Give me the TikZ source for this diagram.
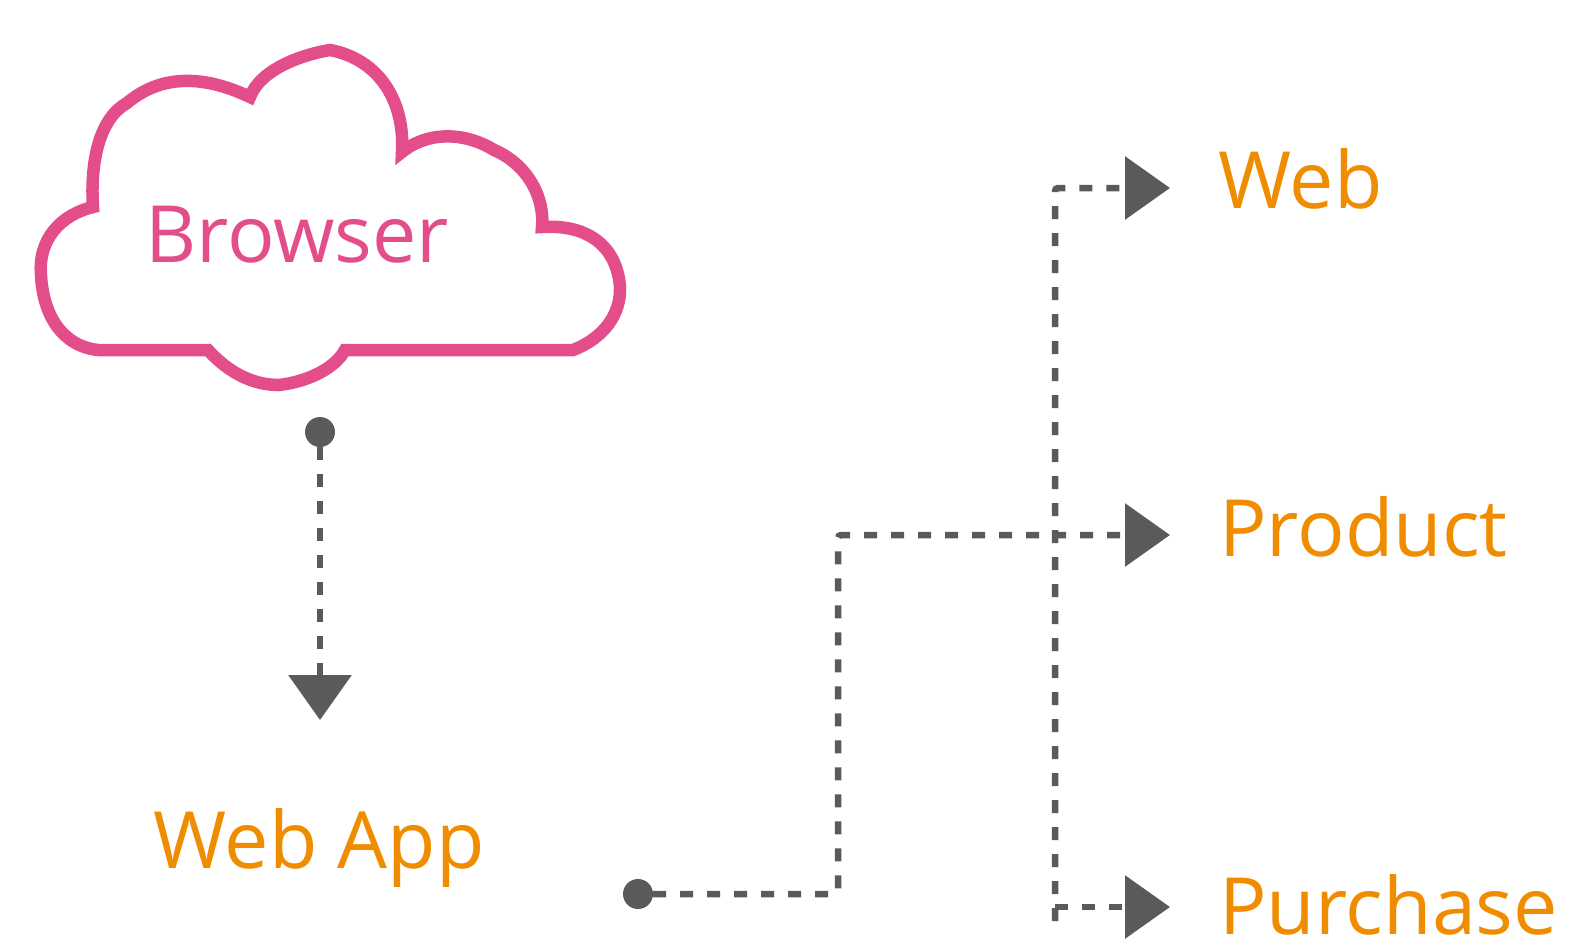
\documentclass[tikz,border=0pt]{standalone}
\usepackage{fontspec}
\setmainfont{Open Sans}
\usetikzlibrary{arrows.meta}
\definecolor{cloudpink}{HTML}{E34E8A}
\definecolor{labelorange}{HTML}{F08C00}
\definecolor{linegray}{HTML}{5A5A5A}
\tikzset{
  cloudline/.style={draw=cloudpink, line width=12.5pt, line join=miter},
  label/.style={text=labelorange, inner sep=0pt, anchor=base west, font=\fontsize{79}{95}\selectfont},
  cloudlabel/.style={text=cloudpink, inner sep=0pt, anchor=base west, font=\fontsize{79}{95}\selectfont},
  flow/.style={draw=linegray, line width=6.5pt, dash pattern=on 13pt off 14pt, rounded corners=3pt},
  tip/.style={-{Triangle[length=45pt,width=62pt]}, linegray},
  dotnode/.style={circle, fill=linegray, inner sep=0pt, minimum size=30pt}
}
\begin{document}
\begin{tikzpicture}[x=1pt,y=-1pt]
\useasboundingbox (0,0) rectangle (1569,943);
% cloud
\draw[cloudline, fill=white] (98,350) -- (208,350)
  .. controls (228,372) and (252,385) .. (279,385)
  .. controls (305,382) and (334,370) .. (345,350)
  -- (573,350)
  .. controls (604,338) and (621,314) .. (620,287)
  .. controls (617,248) and (590,224) .. (542,227)
  .. controls (545,195) and (525,163) .. (494,150)
  .. controls (465,132) and (428,131) .. (402,152)
  .. controls (405,100) and (378,59) .. (330,50)
  .. controls (300,55) and (260,70) .. (250,97)
  .. controls (210,78) and (165,71) .. (127,103)
  .. controls (100,118) and (90,160) .. (93,207)
  .. controls (60,215) and (38,240) .. (41,275)
  .. controls (43,315) and (62,346) .. (98,350) -- cycle;
\node[cloudlabel] (browser) at (145,262) {Browser};
% nodes
\node[dotnode] (d1) at (320,432) {};
\node[dotnode] (d2) at (638,894) {};
\coordinate (tipapp) at (320,720);
\coordinate (tipweb) at (1170,188);
\coordinate (tipprod) at (1170,535);
\coordinate (tippur) at (1170,907);
\coordinate (c1) at (838,894);
\coordinate (c2) at (838,535);
\coordinate (vtop) at (1055,188);
\coordinate (vbot) at (1055,921);
\coordinate (vpur) at (1055,907);
\node[label] (webapp) at (153,868) {Web App};
\node[label] (web) at (1218,208) {Web};
\node[label] (product) at (1219,556) {Product};
\node[label] (purchase) at (1219,934) {Purchase};
% connectors
\draw[flow, tip] (d1.south) -- (tipapp);
\draw[flow, tip] (d2.east) -- (c1) -- (c2) -- (tipprod);
\draw[flow, tip] (vbot) -- (vtop) -- (tipweb);
\draw[flow, tip] (vpur) -- (tippur);
\end{tikzpicture}
\end{document}
